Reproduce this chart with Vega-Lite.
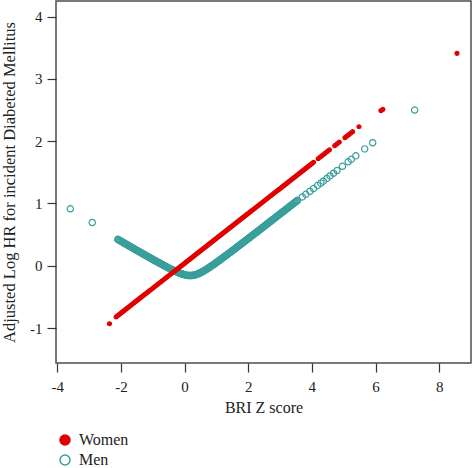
{
  "$schema": "https://vega.github.io/schema/vega-lite/v6.json",
  "width": 415,
  "height": 362,
  "autosize": {"type": "none"},
  "padding": {"left": 56, "top": 1, "right": 1, "bottom": 105},
  "background": "white",
  "config": {
    "font": "Liberation Serif",
    "view": {"stroke": "#4d4d4d", "strokeWidth": 1.5},
    "axis": {
      "grid": false,
      "domain": false,
      "tickColor": "#333333",
      "tickWidth": 1.2,
      "labelFont": "Liberation Serif",
      "labelFontSize": 15,
      "labelColor": "#222222",
      "titleFont": "Liberation Serif",
      "titleFontWeight": "normal",
      "titleColor": "#222222"
    },
    "legend": {
      "labelFont": "Liberation Serif",
      "labelFontSize": 16,
      "labelColor": "#222222",
      "symbolSize": 100,
      "symbolStrokeWidth": 1.5,
      "symbolType": "circle",
      "labelOffset": 6,
      "rowPadding": 4,
      "padding": 0
    }
  },
  "data": {
    "values": [
      {"sex": "Men", "bri": -3.59, "hr": 0.915},
      {"sex": "Men", "bri": -2.9, "hr": 0.695},
      {"sex": "Men", "bri": -2.1, "hr": 0.424},
      {"sex": "Men", "bri": -2.05, "hr": 0.409},
      {"sex": "Men", "bri": -2.0, "hr": 0.395},
      {"sex": "Men", "bri": -1.95, "hr": 0.38},
      {"sex": "Men", "bri": -1.9, "hr": 0.365},
      {"sex": "Men", "bri": -1.85, "hr": 0.35},
      {"sex": "Men", "bri": -1.8, "hr": 0.336},
      {"sex": "Men", "bri": -1.75, "hr": 0.321},
      {"sex": "Men", "bri": -1.7, "hr": 0.306},
      {"sex": "Men", "bri": -1.65, "hr": 0.292},
      {"sex": "Men", "bri": -1.6, "hr": 0.277},
      {"sex": "Men", "bri": -1.55, "hr": 0.262},
      {"sex": "Men", "bri": -1.5, "hr": 0.248},
      {"sex": "Men", "bri": -1.45, "hr": 0.233},
      {"sex": "Men", "bri": -1.4, "hr": 0.219},
      {"sex": "Men", "bri": -1.35, "hr": 0.204},
      {"sex": "Men", "bri": -1.3, "hr": 0.189},
      {"sex": "Men", "bri": -1.25, "hr": 0.175},
      {"sex": "Men", "bri": -1.2, "hr": 0.16},
      {"sex": "Men", "bri": -1.15, "hr": 0.146},
      {"sex": "Men", "bri": -1.1, "hr": 0.132},
      {"sex": "Men", "bri": -1.05, "hr": 0.117},
      {"sex": "Men", "bri": -1.0, "hr": 0.103},
      {"sex": "Men", "bri": -0.95, "hr": 0.089},
      {"sex": "Men", "bri": -0.9, "hr": 0.075},
      {"sex": "Men", "bri": -0.85, "hr": 0.061},
      {"sex": "Men", "bri": -0.8, "hr": 0.047},
      {"sex": "Men", "bri": -0.75, "hr": 0.033},
      {"sex": "Men", "bri": -0.7, "hr": 0.019},
      {"sex": "Men", "bri": -0.65, "hr": 0.005},
      {"sex": "Men", "bri": -0.6, "hr": -0.008},
      {"sex": "Men", "bri": -0.55, "hr": -0.022},
      {"sex": "Men", "bri": -0.5, "hr": -0.035},
      {"sex": "Men", "bri": -0.45, "hr": -0.048},
      {"sex": "Men", "bri": -0.4, "hr": -0.061},
      {"sex": "Men", "bri": -0.35, "hr": -0.073},
      {"sex": "Men", "bri": -0.3, "hr": -0.085},
      {"sex": "Men", "bri": -0.25, "hr": -0.097},
      {"sex": "Men", "bri": -0.2, "hr": -0.108},
      {"sex": "Men", "bri": -0.15, "hr": -0.118},
      {"sex": "Men", "bri": -0.1, "hr": -0.128},
      {"sex": "Men", "bri": -0.05, "hr": -0.137},
      {"sex": "Men", "bri": 0.0, "hr": -0.144},
      {"sex": "Men", "bri": 0.05, "hr": -0.15},
      {"sex": "Men", "bri": 0.1, "hr": -0.154},
      {"sex": "Men", "bri": 0.15, "hr": -0.157},
      {"sex": "Men", "bri": 0.2, "hr": -0.157},
      {"sex": "Men", "bri": 0.25, "hr": -0.154},
      {"sex": "Men", "bri": 0.3, "hr": -0.15},
      {"sex": "Men", "bri": 0.35, "hr": -0.143},
      {"sex": "Men", "bri": 0.4, "hr": -0.134},
      {"sex": "Men", "bri": 0.45, "hr": -0.123},
      {"sex": "Men", "bri": 0.5, "hr": -0.111},
      {"sex": "Men", "bri": 0.55, "hr": -0.098},
      {"sex": "Men", "bri": 0.6, "hr": -0.083},
      {"sex": "Men", "bri": 0.65, "hr": -0.068},
      {"sex": "Men", "bri": 0.7, "hr": -0.052},
      {"sex": "Men", "bri": 0.75, "hr": -0.036},
      {"sex": "Men", "bri": 0.8, "hr": -0.019},
      {"sex": "Men", "bri": 0.85, "hr": -0.001},
      {"sex": "Men", "bri": 0.9, "hr": 0.016},
      {"sex": "Men", "bri": 0.95, "hr": 0.034},
      {"sex": "Men", "bri": 1.0, "hr": 0.053},
      {"sex": "Men", "bri": 1.05, "hr": 0.071},
      {"sex": "Men", "bri": 1.1, "hr": 0.089},
      {"sex": "Men", "bri": 1.15, "hr": 0.108},
      {"sex": "Men", "bri": 1.2, "hr": 0.127},
      {"sex": "Men", "bri": 1.25, "hr": 0.146},
      {"sex": "Men", "bri": 1.3, "hr": 0.165},
      {"sex": "Men", "bri": 1.35, "hr": 0.184},
      {"sex": "Men", "bri": 1.4, "hr": 0.203},
      {"sex": "Men", "bri": 1.45, "hr": 0.222},
      {"sex": "Men", "bri": 1.5, "hr": 0.241},
      {"sex": "Men", "bri": 1.55, "hr": 0.261},
      {"sex": "Men", "bri": 1.6, "hr": 0.28},
      {"sex": "Men", "bri": 1.65, "hr": 0.3},
      {"sex": "Men", "bri": 1.7, "hr": 0.319},
      {"sex": "Men", "bri": 1.75, "hr": 0.339},
      {"sex": "Men", "bri": 1.8, "hr": 0.358},
      {"sex": "Men", "bri": 1.85, "hr": 0.378},
      {"sex": "Men", "bri": 1.9, "hr": 0.397},
      {"sex": "Men", "bri": 1.95, "hr": 0.417},
      {"sex": "Men", "bri": 2.0, "hr": 0.436},
      {"sex": "Men", "bri": 2.05, "hr": 0.456},
      {"sex": "Men", "bri": 2.1, "hr": 0.476},
      {"sex": "Men", "bri": 2.15, "hr": 0.495},
      {"sex": "Men", "bri": 2.2, "hr": 0.515},
      {"sex": "Men", "bri": 2.25, "hr": 0.535},
      {"sex": "Men", "bri": 2.3, "hr": 0.555},
      {"sex": "Men", "bri": 2.35, "hr": 0.574},
      {"sex": "Men", "bri": 2.4, "hr": 0.594},
      {"sex": "Men", "bri": 2.45, "hr": 0.614},
      {"sex": "Men", "bri": 2.5, "hr": 0.634},
      {"sex": "Men", "bri": 2.55, "hr": 0.653},
      {"sex": "Men", "bri": 2.6, "hr": 0.673},
      {"sex": "Men", "bri": 2.65, "hr": 0.693},
      {"sex": "Men", "bri": 2.7, "hr": 0.713},
      {"sex": "Men", "bri": 2.75, "hr": 0.733},
      {"sex": "Men", "bri": 2.8, "hr": 0.752},
      {"sex": "Men", "bri": 2.85, "hr": 0.772},
      {"sex": "Men", "bri": 2.9, "hr": 0.792},
      {"sex": "Men", "bri": 2.95, "hr": 0.812},
      {"sex": "Men", "bri": 3.0, "hr": 0.832},
      {"sex": "Men", "bri": 3.05, "hr": 0.852},
      {"sex": "Men", "bri": 3.1, "hr": 0.871},
      {"sex": "Men", "bri": 3.15, "hr": 0.891},
      {"sex": "Men", "bri": 3.2, "hr": 0.911},
      {"sex": "Men", "bri": 3.25, "hr": 0.931},
      {"sex": "Men", "bri": 3.3, "hr": 0.951},
      {"sex": "Men", "bri": 3.35, "hr": 0.971},
      {"sex": "Men", "bri": 3.4, "hr": 0.991},
      {"sex": "Men", "bri": 3.45, "hr": 1.011},
      {"sex": "Men", "bri": 3.5, "hr": 1.03},
      {"sex": "Men", "bri": 3.55, "hr": 1.05},
      {"sex": "Men", "bri": -2.075, "hr": 0.417},
      {"sex": "Men", "bri": -2.025, "hr": 0.402},
      {"sex": "Men", "bri": -1.975, "hr": 0.387},
      {"sex": "Men", "bri": -1.925, "hr": 0.373},
      {"sex": "Men", "bri": -1.875, "hr": 0.358},
      {"sex": "Men", "bri": -1.825, "hr": 0.343},
      {"sex": "Men", "bri": -1.775, "hr": 0.328},
      {"sex": "Men", "bri": -1.725, "hr": 0.314},
      {"sex": "Men", "bri": -1.675, "hr": 0.299},
      {"sex": "Men", "bri": -1.625, "hr": 0.284},
      {"sex": "Men", "bri": -1.575, "hr": 0.27},
      {"sex": "Men", "bri": -1.525, "hr": 0.255},
      {"sex": "Men", "bri": -1.475, "hr": 0.241},
      {"sex": "Men", "bri": -1.425, "hr": 0.226},
      {"sex": "Men", "bri": -1.375, "hr": 0.211},
      {"sex": "Men", "bri": -1.325, "hr": 0.197},
      {"sex": "Men", "bri": -1.275, "hr": 0.182},
      {"sex": "Men", "bri": -1.225, "hr": 0.168},
      {"sex": "Men", "bri": -1.175, "hr": 0.153},
      {"sex": "Men", "bri": -1.125, "hr": 0.139},
      {"sex": "Men", "bri": -1.075, "hr": 0.124},
      {"sex": "Men", "bri": -1.025, "hr": 0.11},
      {"sex": "Men", "bri": -0.975, "hr": 0.096},
      {"sex": "Men", "bri": -0.925, "hr": 0.082},
      {"sex": "Men", "bri": -0.875, "hr": 0.068},
      {"sex": "Men", "bri": -0.825, "hr": 0.054},
      {"sex": "Men", "bri": -0.775, "hr": 0.04},
      {"sex": "Men", "bri": -0.725, "hr": 0.026},
      {"sex": "Men", "bri": -0.675, "hr": 0.012},
      {"sex": "Men", "bri": -0.625, "hr": -0.002},
      {"sex": "Men", "bri": -0.575, "hr": -0.015},
      {"sex": "Men", "bri": -0.525, "hr": -0.029},
      {"sex": "Men", "bri": -0.475, "hr": -0.042},
      {"sex": "Men", "bri": -0.425, "hr": -0.055},
      {"sex": "Men", "bri": -0.375, "hr": -0.067},
      {"sex": "Men", "bri": -0.325, "hr": -0.079},
      {"sex": "Men", "bri": -0.275, "hr": -0.091},
      {"sex": "Men", "bri": -0.225, "hr": -0.103},
      {"sex": "Men", "bri": -0.175, "hr": -0.113},
      {"sex": "Men", "bri": -0.125, "hr": -0.123},
      {"sex": "Men", "bri": -0.075, "hr": -0.133},
      {"sex": "Men", "bri": -0.025, "hr": -0.141},
      {"sex": "Men", "bri": 0.025, "hr": -0.147},
      {"sex": "Men", "bri": 0.075, "hr": -0.152},
      {"sex": "Men", "bri": 0.125, "hr": -0.156},
      {"sex": "Men", "bri": 0.175, "hr": -0.157},
      {"sex": "Men", "bri": 0.225, "hr": -0.156},
      {"sex": "Men", "bri": 0.275, "hr": -0.152},
      {"sex": "Men", "bri": 0.325, "hr": -0.147},
      {"sex": "Men", "bri": 0.375, "hr": -0.139},
      {"sex": "Men", "bri": 0.425, "hr": -0.129},
      {"sex": "Men", "bri": 0.475, "hr": -0.117},
      {"sex": "Men", "bri": 0.525, "hr": -0.105},
      {"sex": "Men", "bri": 0.575, "hr": -0.091},
      {"sex": "Men", "bri": 0.625, "hr": -0.076},
      {"sex": "Men", "bri": 0.675, "hr": -0.06},
      {"sex": "Men", "bri": 0.725, "hr": -0.044},
      {"sex": "Men", "bri": 0.775, "hr": -0.028},
      {"sex": "Men", "bri": 0.825, "hr": -0.01},
      {"sex": "Men", "bri": 0.875, "hr": 0.008},
      {"sex": "Men", "bri": 0.925, "hr": 0.025},
      {"sex": "Men", "bri": 0.975, "hr": 0.044},
      {"sex": "Men", "bri": 1.025, "hr": 0.062},
      {"sex": "Men", "bri": 1.075, "hr": 0.08},
      {"sex": "Men", "bri": 1.125, "hr": 0.099},
      {"sex": "Men", "bri": 1.175, "hr": 0.118},
      {"sex": "Men", "bri": 1.225, "hr": 0.137},
      {"sex": "Men", "bri": 1.275, "hr": 0.156},
      {"sex": "Men", "bri": 1.325, "hr": 0.175},
      {"sex": "Men", "bri": 1.375, "hr": 0.194},
      {"sex": "Men", "bri": 1.425, "hr": 0.213},
      {"sex": "Men", "bri": 1.475, "hr": 0.232},
      {"sex": "Men", "bri": 1.525, "hr": 0.251},
      {"sex": "Men", "bri": 1.575, "hr": 0.271},
      {"sex": "Men", "bri": 1.625, "hr": 0.29},
      {"sex": "Men", "bri": 1.675, "hr": 0.31},
      {"sex": "Men", "bri": 1.725, "hr": 0.329},
      {"sex": "Men", "bri": 1.775, "hr": 0.349},
      {"sex": "Men", "bri": 1.825, "hr": 0.368},
      {"sex": "Men", "bri": 1.875, "hr": 0.388},
      {"sex": "Men", "bri": 1.925, "hr": 0.407},
      {"sex": "Men", "bri": 1.975, "hr": 0.427},
      {"sex": "Men", "bri": 2.025, "hr": 0.446},
      {"sex": "Men", "bri": 2.075, "hr": 0.466},
      {"sex": "Men", "bri": 2.125, "hr": 0.486},
      {"sex": "Men", "bri": 2.175, "hr": 0.505},
      {"sex": "Men", "bri": 2.225, "hr": 0.525},
      {"sex": "Men", "bri": 2.275, "hr": 0.545},
      {"sex": "Men", "bri": 2.325, "hr": 0.564},
      {"sex": "Men", "bri": 2.375, "hr": 0.584},
      {"sex": "Men", "bri": 2.425, "hr": 0.604},
      {"sex": "Men", "bri": 2.475, "hr": 0.624},
      {"sex": "Men", "bri": 2.525, "hr": 0.643},
      {"sex": "Men", "bri": 2.575, "hr": 0.663},
      {"sex": "Men", "bri": 2.625, "hr": 0.683},
      {"sex": "Men", "bri": 2.675, "hr": 0.703},
      {"sex": "Men", "bri": 2.725, "hr": 0.723},
      {"sex": "Men", "bri": 2.775, "hr": 0.742},
      {"sex": "Men", "bri": 2.825, "hr": 0.762},
      {"sex": "Men", "bri": 2.875, "hr": 0.782},
      {"sex": "Men", "bri": 2.925, "hr": 0.802},
      {"sex": "Men", "bri": 2.975, "hr": 0.822},
      {"sex": "Men", "bri": 3.025, "hr": 0.842},
      {"sex": "Men", "bri": 3.075, "hr": 0.861},
      {"sex": "Men", "bri": 3.125, "hr": 0.881},
      {"sex": "Men", "bri": 3.175, "hr": 0.901},
      {"sex": "Men", "bri": 3.225, "hr": 0.921},
      {"sex": "Men", "bri": 3.275, "hr": 0.941},
      {"sex": "Men", "bri": 3.325, "hr": 0.961},
      {"sex": "Men", "bri": 3.375, "hr": 0.981},
      {"sex": "Men", "bri": 3.425, "hr": 1.001},
      {"sex": "Men", "bri": 3.475, "hr": 1.02},
      {"sex": "Men", "bri": 3.525, "hr": 1.04},
      {"sex": "Men", "bri": 3.7, "hr": 1.105},
      {"sex": "Men", "bri": 3.81, "hr": 1.147},
      {"sex": "Men", "bri": 3.94, "hr": 1.197},
      {"sex": "Men", "bri": 4.05, "hr": 1.24},
      {"sex": "Men", "bri": 4.18, "hr": 1.29},
      {"sex": "Men", "bri": 4.28, "hr": 1.326},
      {"sex": "Men", "bri": 4.36, "hr": 1.358},
      {"sex": "Men", "bri": 4.47, "hr": 1.402},
      {"sex": "Men", "bri": 4.57, "hr": 1.442},
      {"sex": "Men", "bri": 4.68, "hr": 1.485},
      {"sex": "Men", "bri": 4.79, "hr": 1.529},
      {"sex": "Men", "bri": 4.96, "hr": 1.597},
      {"sex": "Men", "bri": 5.14, "hr": 1.669},
      {"sex": "Men", "bri": 5.24, "hr": 1.709},
      {"sex": "Men", "bri": 5.38, "hr": 1.765},
      {"sex": "Men", "bri": 5.66, "hr": 1.876},
      {"sex": "Men", "bri": 5.91, "hr": 1.975},
      {"sex": "Men", "bri": 7.23, "hr": 2.5},
      {"sex": "Women", "bri": -2.36, "hr": -0.93},
      {"sex": "Women", "bri": -2.15, "hr": -0.82},
      {"sex": "Women", "bri": -2.1, "hr": -0.8},
      {"sex": "Women", "bri": -2.05, "hr": -0.78},
      {"sex": "Women", "bri": -2.0, "hr": -0.76},
      {"sex": "Women", "bri": -1.95, "hr": -0.74},
      {"sex": "Women", "bri": -1.9, "hr": -0.72},
      {"sex": "Women", "bri": -1.85, "hr": -0.7},
      {"sex": "Women", "bri": -1.8, "hr": -0.68},
      {"sex": "Women", "bri": -1.75, "hr": -0.66},
      {"sex": "Women", "bri": -1.7, "hr": -0.64},
      {"sex": "Women", "bri": -1.65, "hr": -0.62},
      {"sex": "Women", "bri": -1.6, "hr": -0.6},
      {"sex": "Women", "bri": -1.55, "hr": -0.58},
      {"sex": "Women", "bri": -1.5, "hr": -0.56},
      {"sex": "Women", "bri": -1.45, "hr": -0.54},
      {"sex": "Women", "bri": -1.4, "hr": -0.52},
      {"sex": "Women", "bri": -1.35, "hr": -0.5},
      {"sex": "Women", "bri": -1.3, "hr": -0.48},
      {"sex": "Women", "bri": -1.25, "hr": -0.46},
      {"sex": "Women", "bri": -1.2, "hr": -0.44},
      {"sex": "Women", "bri": -1.15, "hr": -0.42},
      {"sex": "Women", "bri": -1.1, "hr": -0.4},
      {"sex": "Women", "bri": -1.05, "hr": -0.38},
      {"sex": "Women", "bri": -1.0, "hr": -0.36},
      {"sex": "Women", "bri": -0.95, "hr": -0.34},
      {"sex": "Women", "bri": -0.9, "hr": -0.32},
      {"sex": "Women", "bri": -0.85, "hr": -0.3},
      {"sex": "Women", "bri": -0.8, "hr": -0.28},
      {"sex": "Women", "bri": -0.75, "hr": -0.26},
      {"sex": "Women", "bri": -0.7, "hr": -0.24},
      {"sex": "Women", "bri": -0.65, "hr": -0.22},
      {"sex": "Women", "bri": -0.6, "hr": -0.2},
      {"sex": "Women", "bri": -0.55, "hr": -0.18},
      {"sex": "Women", "bri": -0.5, "hr": -0.16},
      {"sex": "Women", "bri": -0.45, "hr": -0.14},
      {"sex": "Women", "bri": -0.4, "hr": -0.12},
      {"sex": "Women", "bri": -0.35, "hr": -0.1},
      {"sex": "Women", "bri": -0.3, "hr": -0.08},
      {"sex": "Women", "bri": -0.25, "hr": -0.06},
      {"sex": "Women", "bri": -0.2, "hr": -0.04},
      {"sex": "Women", "bri": -0.15, "hr": -0.02},
      {"sex": "Women", "bri": -0.1, "hr": 0.0},
      {"sex": "Women", "bri": -0.05, "hr": 0.02},
      {"sex": "Women", "bri": 0.0, "hr": 0.04},
      {"sex": "Women", "bri": 0.05, "hr": 0.06},
      {"sex": "Women", "bri": 0.1, "hr": 0.08},
      {"sex": "Women", "bri": 0.15, "hr": 0.1},
      {"sex": "Women", "bri": 0.2, "hr": 0.12},
      {"sex": "Women", "bri": 0.25, "hr": 0.14},
      {"sex": "Women", "bri": 0.3, "hr": 0.16},
      {"sex": "Women", "bri": 0.35, "hr": 0.18},
      {"sex": "Women", "bri": 0.4, "hr": 0.2},
      {"sex": "Women", "bri": 0.45, "hr": 0.22},
      {"sex": "Women", "bri": 0.5, "hr": 0.24},
      {"sex": "Women", "bri": 0.55, "hr": 0.26},
      {"sex": "Women", "bri": 0.6, "hr": 0.28},
      {"sex": "Women", "bri": 0.65, "hr": 0.3},
      {"sex": "Women", "bri": 0.7, "hr": 0.32},
      {"sex": "Women", "bri": 0.75, "hr": 0.34},
      {"sex": "Women", "bri": 0.8, "hr": 0.36},
      {"sex": "Women", "bri": 0.85, "hr": 0.38},
      {"sex": "Women", "bri": 0.9, "hr": 0.4},
      {"sex": "Women", "bri": 0.95, "hr": 0.42},
      {"sex": "Women", "bri": 1.0, "hr": 0.44},
      {"sex": "Women", "bri": 1.05, "hr": 0.46},
      {"sex": "Women", "bri": 1.1, "hr": 0.48},
      {"sex": "Women", "bri": 1.15, "hr": 0.5},
      {"sex": "Women", "bri": 1.2, "hr": 0.52},
      {"sex": "Women", "bri": 1.25, "hr": 0.54},
      {"sex": "Women", "bri": 1.3, "hr": 0.56},
      {"sex": "Women", "bri": 1.35, "hr": 0.58},
      {"sex": "Women", "bri": 1.4, "hr": 0.6},
      {"sex": "Women", "bri": 1.45, "hr": 0.62},
      {"sex": "Women", "bri": 1.5, "hr": 0.64},
      {"sex": "Women", "bri": 1.55, "hr": 0.66},
      {"sex": "Women", "bri": 1.6, "hr": 0.68},
      {"sex": "Women", "bri": 1.65, "hr": 0.7},
      {"sex": "Women", "bri": 1.7, "hr": 0.72},
      {"sex": "Women", "bri": 1.75, "hr": 0.74},
      {"sex": "Women", "bri": 1.8, "hr": 0.76},
      {"sex": "Women", "bri": 1.85, "hr": 0.78},
      {"sex": "Women", "bri": 1.9, "hr": 0.8},
      {"sex": "Women", "bri": 1.95, "hr": 0.82},
      {"sex": "Women", "bri": 2.0, "hr": 0.84},
      {"sex": "Women", "bri": 2.05, "hr": 0.86},
      {"sex": "Women", "bri": 2.1, "hr": 0.88},
      {"sex": "Women", "bri": 2.15, "hr": 0.9},
      {"sex": "Women", "bri": 2.2, "hr": 0.92},
      {"sex": "Women", "bri": 2.25, "hr": 0.94},
      {"sex": "Women", "bri": 2.3, "hr": 0.96},
      {"sex": "Women", "bri": 2.35, "hr": 0.98},
      {"sex": "Women", "bri": 2.4, "hr": 1.0},
      {"sex": "Women", "bri": 2.45, "hr": 1.02},
      {"sex": "Women", "bri": 2.5, "hr": 1.04},
      {"sex": "Women", "bri": 2.55, "hr": 1.06},
      {"sex": "Women", "bri": 2.6, "hr": 1.08},
      {"sex": "Women", "bri": 2.65, "hr": 1.1},
      {"sex": "Women", "bri": 2.7, "hr": 1.12},
      {"sex": "Women", "bri": 2.75, "hr": 1.14},
      {"sex": "Women", "bri": 2.8, "hr": 1.16},
      {"sex": "Women", "bri": 2.85, "hr": 1.18},
      {"sex": "Women", "bri": 2.9, "hr": 1.2},
      {"sex": "Women", "bri": 2.95, "hr": 1.22},
      {"sex": "Women", "bri": 3.0, "hr": 1.24},
      {"sex": "Women", "bri": 3.05, "hr": 1.26},
      {"sex": "Women", "bri": 3.1, "hr": 1.28},
      {"sex": "Women", "bri": 3.15, "hr": 1.3},
      {"sex": "Women", "bri": 3.2, "hr": 1.32},
      {"sex": "Women", "bri": 3.25, "hr": 1.34},
      {"sex": "Women", "bri": 3.3, "hr": 1.36},
      {"sex": "Women", "bri": 3.35, "hr": 1.38},
      {"sex": "Women", "bri": 3.4, "hr": 1.4},
      {"sex": "Women", "bri": 3.45, "hr": 1.42},
      {"sex": "Women", "bri": 3.5, "hr": 1.44},
      {"sex": "Women", "bri": 3.55, "hr": 1.46},
      {"sex": "Women", "bri": 3.6, "hr": 1.48},
      {"sex": "Women", "bri": 3.65, "hr": 1.5},
      {"sex": "Women", "bri": 3.7, "hr": 1.52},
      {"sex": "Women", "bri": 3.75, "hr": 1.54},
      {"sex": "Women", "bri": 3.8, "hr": 1.56},
      {"sex": "Women", "bri": 3.85, "hr": 1.58},
      {"sex": "Women", "bri": 3.9, "hr": 1.6},
      {"sex": "Women", "bri": 3.95, "hr": 1.62},
      {"sex": "Women", "bri": 4.0, "hr": 1.64},
      {"sex": "Women", "bri": 4.05, "hr": 1.66},
      {"sex": "Women", "bri": 4.2, "hr": 1.72},
      {"sex": "Women", "bri": 4.27, "hr": 1.748},
      {"sex": "Women", "bri": 4.34, "hr": 1.776},
      {"sex": "Women", "bri": 4.41, "hr": 1.804},
      {"sex": "Women", "bri": 4.48, "hr": 1.832},
      {"sex": "Women", "bri": 4.55, "hr": 1.86},
      {"sex": "Women", "bri": 4.72, "hr": 1.928},
      {"sex": "Women", "bri": 4.79, "hr": 1.956},
      {"sex": "Women", "bri": 4.86, "hr": 1.984},
      {"sex": "Women", "bri": 5.04, "hr": 2.056},
      {"sex": "Women", "bri": 5.1, "hr": 2.08},
      {"sex": "Women", "bri": 5.16, "hr": 2.104},
      {"sex": "Women", "bri": 5.22, "hr": 2.128},
      {"sex": "Women", "bri": 5.28, "hr": 2.152},
      {"sex": "Women", "bri": 5.48, "hr": 2.232},
      {"sex": "Women", "bri": 6.17, "hr": 2.49},
      {"sex": "Women", "bri": 6.23, "hr": 2.51},
      {"sex": "Women", "bri": 8.56, "hr": 3.41}
    ]
  },
  "encoding": {
    "x": {
      "field": "bri",
      "type": "quantitative",
      "scale": {"domain": [-4.04, 9.0], "nice": false, "zero": false},
      "axis": {
        "values": [-4, -2, 0, 2, 4, 6, 8],
        "labelExpr": "replace(datum.label, '\u2212', '-')",
        "title": "BRI Z score",
        "titleFontSize": 16,
        "tickSize": 9,
        "labelPadding": 7,
        "titleY": 49,
        "titleBaseline": "alphabetic"
      }
    },
    "y": {
      "field": "hr",
      "type": "quantitative",
      "scale": {"domain": [-1.56, 4.25], "nice": false, "zero": false},
      "axis": {
        "values": [-1, 0, 1, 2, 3, 4],
        "labelExpr": "replace(datum.label, '\u2212', '-')",
        "title": "Adjusted Log HR for incident Diabeted Mellitus",
        "titleFontSize": 16.5,
        "tickSize": 9,
        "labelPadding": 5,
        "titleX": -42,
        "titleY": 181,
        "titleBaseline": "alphabetic"
      }
    },
    "fill": {
      "field": "sex",
      "type": "nominal",
      "scale": {"domain": ["Women", "Men"], "range": ["#e00000", "transparent"]},
      "legend": {"title": null, "orient": "none", "legendX": 1, "legendY": 431}
    },
    "stroke": {
      "field": "sex",
      "type": "nominal",
      "scale": {"domain": ["Women", "Men"], "range": ["#e00000", "#3a9f9b"]},
      "legend": {"title": null, "orient": "none", "legendX": 1, "legendY": 431}
    }
  },
  "layer": [
    {
      "transform": [{"filter": {"field": "sex", "equal": "Men"}}],
      "mark": {"type": "point", "shape": "circle", "size": 40, "strokeWidth": 1.2, "opacity": 1}
    },
    {
      "transform": [{"filter": {"field": "sex", "equal": "Women"}}],
      "mark": {"type": "point", "shape": "circle", "size": 16, "strokeWidth": 1.2, "opacity": 1}
    }
  ]
}
